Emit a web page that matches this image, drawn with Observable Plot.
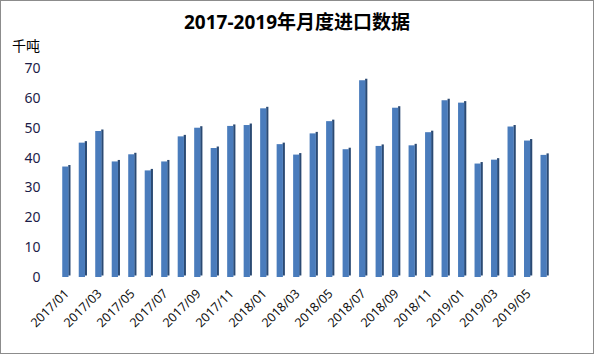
<!DOCTYPE html>
<html><head><meta charset="utf-8">
<script src="https://cdn.jsdelivr.net/npm/d3@7"></script>
<script src="https://cdn.jsdelivr.net/npm/@observablehq/plot@0.6"></script>
<style>
html,body{margin:0;padding:0;background:#fff;}
#wrap{position:relative;width:594px;height:354px;box-sizing:border-box;border:1px solid #8c8c8c;overflow:hidden;font-family:"Noto Sans","Noto Sans CJK SC",sans-serif;}
#title{height:35px;line-height:42px;text-align:center;font-size:19px;font-weight:bold;color:#000;}
#unit{position:absolute;left:11px;top:34px;font-size:14px;color:#000;}
</style></head>
<body><div id="wrap"><div id="title">2017-2019年月度进口数据</div><div id="unit">千吨</div><div id="chart"></div></div>
<script>
const months = ["2017/01","2017/02","2017/03","2017/04","2017/05","2017/06","2017/07","2017/08","2017/09","2017/10","2017/11","2017/12",
"2018/01","2018/02","2018/03","2018/04","2018/05","2018/06","2018/07","2018/08","2018/09","2018/10","2018/11","2018/12",
"2019/01","2019/02","2019/03","2019/04","2019/05","2019/06"];
const values = [37.0,45.0,48.9,38.7,41.1,35.7,38.7,47.1,50.0,43.2,50.6,50.9,
56.5,44.5,41.0,48.1,52.2,42.8,65.9,43.9,56.7,44.1,48.5,59.2,
58.4,38.0,39.3,50.4,45.7,40.9];
const yTicks = [0,10,20,30,40,50,60,70];
const xTicks = months.filter((m,i)=>i%2===0);

const data = months.map((m,i)=>({month:m, value:values[i]}));

const chart = Plot.plot({
  width: 592,
  height: 317,
  marginTop: 32,
  marginBottom: 76,
  marginLeft: 53,
  marginRight: 36,
  style: {fontFamily: '"Noto Sans","Noto Sans CJK SC",sans-serif', background: "transparent"},
  x: {type: "band", domain: months, padding: 0.5, round: false, label: null},
  y: {domain: [0,70], label: null},
  marks: [
    Plot.axisY({ticks: yTicks, tickSize: 0, tickPadding: 14, fontSize: 14, fill: "#1c1c48", label: null}),
    Plot.axisX({ticks: xTicks, tickSize: 0, tickRotate: -45, tickPadding: 14, fontSize: 12.5, fill: "#111", label: null, dx: 0}),
    // side (depth) face
    Plot.barY(data, {x: "month", y: "value", fill: "#2b4a73", insetLeft: 6, insetRight: 0, dy: -1.5}),
    // top face
    Plot.barY(data, {x: "month", y1: "value", y2: "value", stroke: "#86a8d6", strokeWidth: 1.5, insetLeft: 1, insetRight: 0, dy: -1}),
    // front face
    Plot.barY(data, {x: "month", y: "value", fill: "#4a7cbc", insetRight: 2})
  ]
});
document.getElementById("chart").appendChild(chart);
</script></body></html>
